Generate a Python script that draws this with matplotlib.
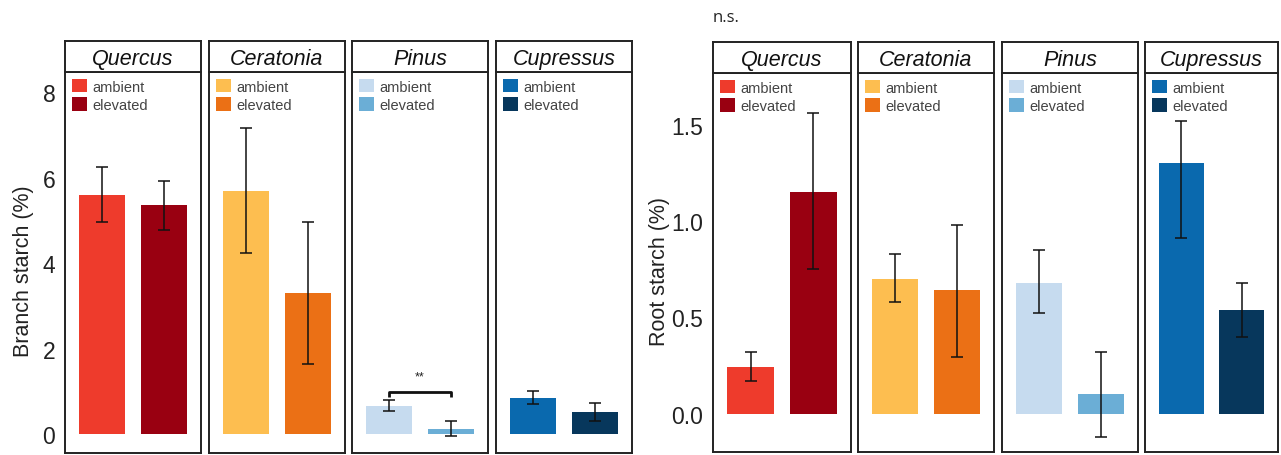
import matplotlib
matplotlib.use('Agg')
import numpy as np
from matplotlib import pyplot as plt
from matplotlib.patches import Patch

plt.rcParams['font.family'] = ['Liberation Sans', 'DejaVu Sans']

species = ["Quercus", "Ceratonia", "Pinus", "Cupressus"]
treatments = ["ambient", "elevated"]

# branch starch (%), mean with lower / upper error bar ends
branch_mean = [[5.60, 5.36], [5.68, 3.30], [0.67, 0.12], [0.85, 0.51]]
branch_lo = [[4.97, 4.78], [4.24, 1.65], [0.55, -0.05], [0.70, 0.31]]
branch_hi = [[6.26, 5.93], [7.16, 4.97], [0.80, 0.31], [1.01, 0.74]]

# root starch (%)
root_mean = [[0.24, 1.15], [0.70, 0.64], [0.68, 0.10], [1.30, 0.54]]
root_lo = [[0.17, 0.75], [0.58, 0.295], [0.52, -0.12], [0.91, 0.40]]
root_hi = [[0.32, 1.56], [0.83, 0.98], [0.85, 0.32], [1.52, 0.68]]

colors = [["#EE3B2C", "#990011"],
          ["#FDBE50", "#EB7015"],
          ["#C6DBEF", "#6BAED6"],
          ["#0A69AE", "#07375C"]]

W, H = 1281, 456
fig = plt.figure(figsize=(W / 100, H / 100), dpi=100)


def px_axes(x0, y0, w, h):
    # pixel box (top-left origin) -> figure axes
    return fig.add_axes([x0 / W, (H - y0 - h) / H, w / W, h / H])


def draw_chart(xs, widths, strip_top, strip_bot, panel_bot, means, los, his,
               ylim, yticks, ticklabels, ylabel, ylabel_x):
    axes = []
    for i, sp in enumerate(species):
        ax = px_axes(xs[i], strip_bot, widths[i], panel_bot - strip_bot)
        pos = np.array([1, 2])
        m = np.array(means[i])
        err = np.array([m - np.array(los[i]), np.array(his[i]) - m])
        ax.bar(pos, m, width=0.74, color=colors[i], edgecolor='none', zorder=2)
        ax.errorbar(pos, m, yerr=err, fmt='none', ecolor='#111111',
                    elinewidth=1.1, capsize=4, capthick=1.1, zorder=3)
        ax.set_xlim(0.4, 2.6)
        ax.set_ylim(*ylim)
        ax.set_xticks([])
        if i == 0:
            ax.set_yticks(yticks)
            ax.set_yticklabels(ticklabels, fontsize=16.5, color='#222222')
            ax.tick_params(axis='y', length=0, pad=7)
        else:
            ax.set_yticks([])
        for s in ax.spines.values():
            s.set_linewidth(1.4)
            s.set_color('#222222')
        handles = [Patch(facecolor=colors[i][k], edgecolor='none', label=t)
                   for k, t in enumerate(treatments)]
        leg = ax.legend(handles=handles, loc='upper left', frameon=False,
                        fontsize=10.5, handlelength=1.0, handleheight=1.0,
                        labelspacing=0.25, handletextpad=0.4,
                        borderaxespad=0.3, borderpad=0.2)
        for t in leg.get_texts():
            t.set_color('#444444')

        st = px_axes(xs[i], strip_top, widths[i], strip_bot - strip_top)
        st.set_xticks([])
        st.set_yticks([])
        for s in st.spines.values():
            s.set_linewidth(1.4)
            s.set_color('#222222')
        st.text(0.5, 0.45, sp, transform=st.transAxes, ha='center', va='center',
                fontsize=15.5, style='italic', color='#111111')
        axes.append(ax)
    mid = (strip_bot + panel_bot) / 2
    fig.text(ylabel_x / W, 1 - (mid + 8) / H, ylabel, rotation=90, ha='center',
             va='center', fontsize=15.5, color='#222222')
    return axes


left = draw_chart([65, 209, 352, 496], [136, 136, 136, 136], 42, 73, 454,
                  branch_mean, branch_lo, branch_hi, (-0.44, 8.47),
                  [0, 2, 4, 6, 8], ["0", "2", "4", "6", "8"],
                  "Branch starch (%)", 24)

right = draw_chart([713, 858, 1002, 1145], [138, 136, 136, 133], 43, 74, 453,
                   root_mean, root_lo, root_hi, (-0.20, 1.77),
                   [0.0, 0.5, 1.0, 1.5], ["0.0", "0.5", "1.0", "1.5"],
                   "Root starch (%)", 660)

# significance bracket on Pinus branch panel
axp = left[2]
axp.plot([1, 1, 2, 2], [0.86, 0.99, 0.99, 0.86], color='#111111', lw=2.0,
         solid_capstyle='butt', zorder=4)
axp.text(1.5, 1.22, "**", ha='center', va='bottom', fontsize=9, color='#222222')

fig.text(713 / W, 1 - 18 / H, "n.s.", ha='left', va='center', fontsize=12,
         family=['Open Sans', 'DejaVu Sans'], color='#222222')

fig.savefig("out.png", dpi=100)
